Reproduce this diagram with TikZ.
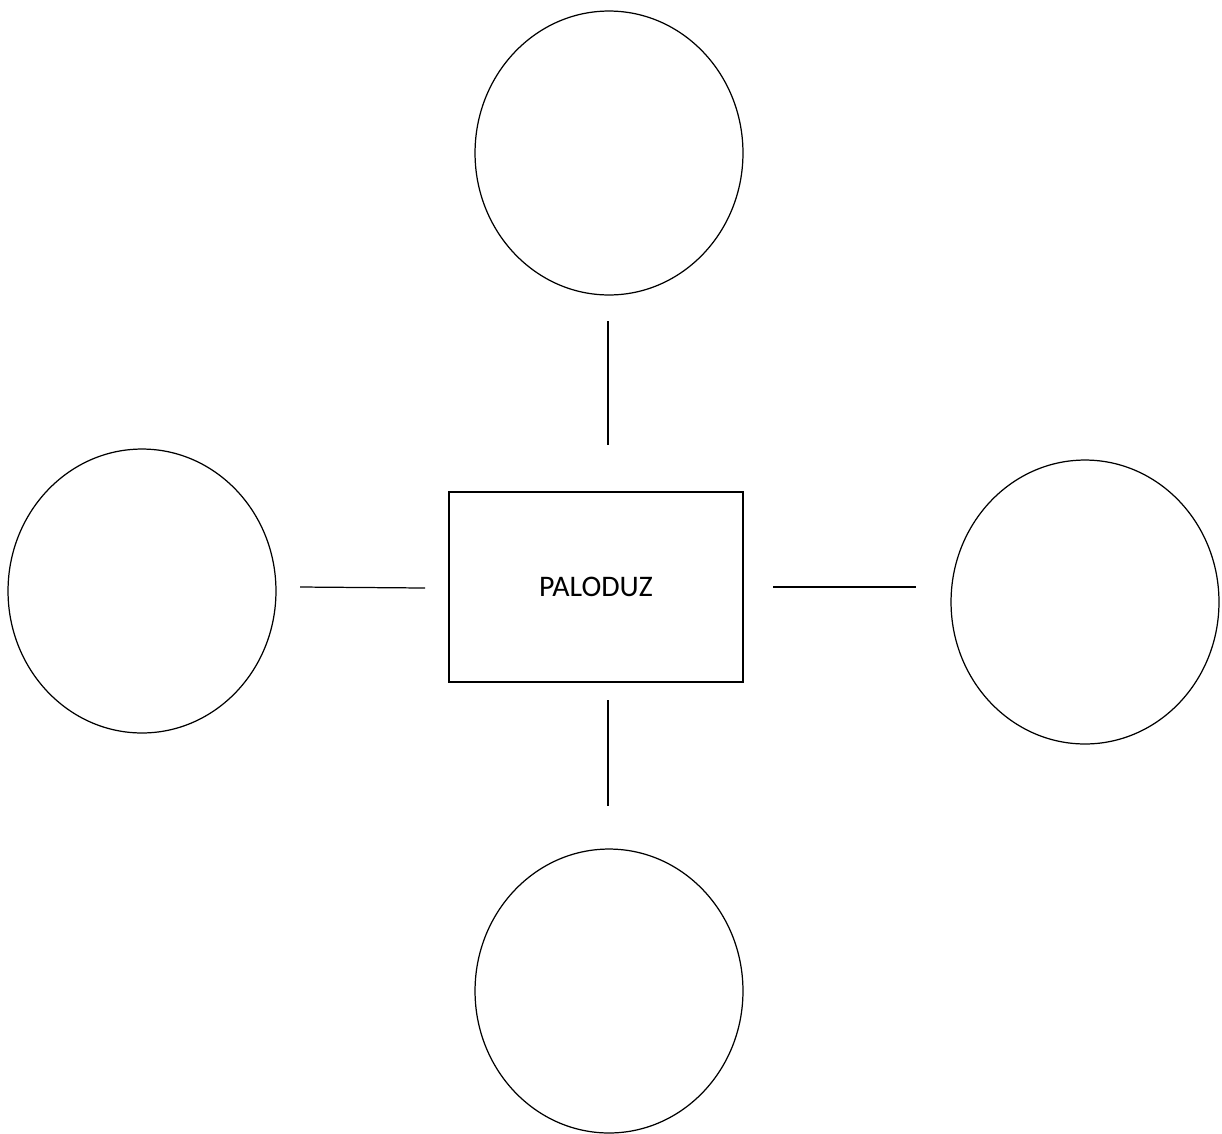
\documentclass[tikz,border=0pt]{standalone}
\usepackage{fontspec}
\setmainfont{Carlito}
\usetikzlibrary{shapes.geometric}
\begin{document}
\begin{tikzpicture}[x=0.02cm,y=-0.02cm,line width=0.7pt,
      bubble/.style={ellipse,draw=black,minimum width=5.36cm,minimum height=5.68cm,inner sep=0pt},
      centre/.style={rectangle,draw=black,minimum width=5.88cm,minimum height=3.8cm,font=\fontsize{17}{20}\selectfont}]
      \useasboundingbox (0,0) rectangle (1222,1133);
      \node[centre] (p) at (596,587) {PALODUZ};
      \node[bubble] (top) at (609,153) {};
      \node[bubble] (left) at (142,591) {};
      \node[bubble] (right) at (1085,602) {};
      \node[bubble] (bottom) at (609,991) {};
      \coordinate (t1) at (608,321);
      \coordinate (t2) at (608,445);
      \coordinate (l1) at (300,587);
      \coordinate (l2) at (425,588);
      \coordinate (r1) at (773,587);
      \coordinate (r2) at (916,587);
      \coordinate (b1) at (608,700);
      \coordinate (b2) at (608,806);
      \draw (t1) -- (t2);
      \draw (l1) -- (l2);
      \draw (r1) -- (r2);
      \draw (b1) -- (b2);
    \end{tikzpicture}
\end{document}
